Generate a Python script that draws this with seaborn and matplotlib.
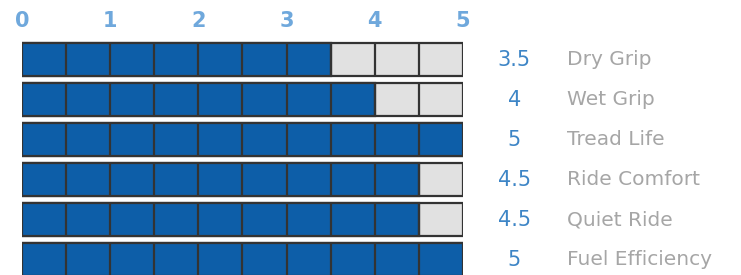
import matplotlib
matplotlib.use("Agg")
import matplotlib.pyplot as plt
import numpy as np
import pandas as pd
import seaborn as sns

traits = ["Dry Grip", "Wet Grip", "Tread Life", "Ride Comfort", "Quiet Ride", "Fuel Efficiency"]
scores = [3.5, 4, 5, 4.5, 4.5, 5]
score_labels = ["3.5", "4", "5", "4.5", "4.5", "5"]
max_score = 5
tick_values = [0, 1, 2, 3, 4, 5]

FILL = "#0d5ea8"
EMPTY = "#e1e1e1"
EDGE = "#333333"

df = pd.DataFrame({"trait": traits, "score": scores, "full": [max_score] * len(traits)})

sns.set_style("white")
fig = plt.figure(figsize=(7.41, 2.75), dpi=100)
W, H = 741, 275
# axes: x 0..5 -> px 22..463, rows pitch 40px, row0 center at 59.5px
left_px, right_px = 22, 463
top_px, bottom_px = 39.5, 279.5
ax = fig.add_axes([left_px / W, (H - bottom_px) / H,
                   (right_px - left_px) / W, (bottom_px - top_px) / H])

bar_w = 0.82
sns.barplot(data=df, x="full", y="trait", color=EMPTY, width=bar_w,
            edgecolor=EDGE, linewidth=1.6, ax=ax, saturation=1)
sns.barplot(data=df, x="score", y="trait", color=FILL, width=bar_w,
            edgecolor=EDGE, linewidth=1.6, ax=ax, saturation=1)

# cell dividers every half point
for i in range(len(traits)):
    ax.vlines(np.arange(0.5, max_score, 0.5), i - bar_w / 2, i + bar_w / 2,
              color=EDGE, linewidth=1.6, zorder=5)
    ax.text(5.58, i, score_labels[i], ha="center", va="center",
            fontsize=15, color="#3d85c6", clip_on=False)
    ax.text(6.18, i, traits[i], ha="left", va="center",
            fontsize=14.5, color="#a6a6a6", clip_on=False)

ax.set_xlim(0, max_score)
ax.set_ylim(len(traits) - 0.5, -0.5)
ax.xaxis.tick_top()
ax.set_xticks(tick_values)
ax.set_xticklabels([str(v) for v in tick_values], fontsize=15,
                   fontweight="bold", color="#6fa8dc")
ax.tick_params(axis="x", length=0, pad=6)
ax.set_yticks([])
ax.set_xlabel("")
ax.set_ylabel("")
for s in ax.spines.values():
    s.set_visible(False)

fig.savefig("out.png", dpi=100)
